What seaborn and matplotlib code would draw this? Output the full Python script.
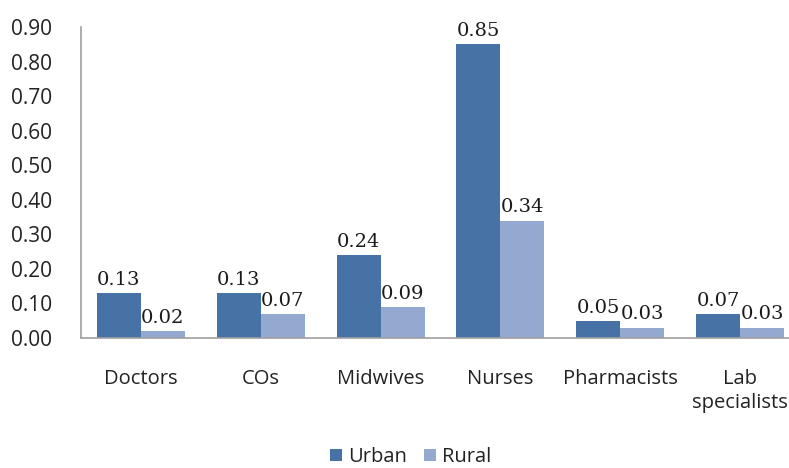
import matplotlib
matplotlib.use("Agg")
import matplotlib.pyplot as plt
import seaborn as sns
import pandas as pd

categories = ["Doctors", "COs", "Midwives", "Nurses", "Pharmacists", "Lab\nspecialists"]
urban = [0.13, 0.13, 0.24, 0.85, 0.05, 0.07]
rural = [0.02, 0.07, 0.09, 0.34, 0.03, 0.03]
series = ["Urban", "Rural"]
yticks = [0.0, 0.1, 0.2, 0.3, 0.4, 0.5, 0.6, 0.7, 0.8, 0.9]

df = pd.DataFrame({
    "cat": categories * 2,
    "val": urban + rural,
    "series": [series[0]] * len(categories) + [series[1]] * len(categories),
})

sns.set_style("white")
plt.rcParams["font.family"] = ["Open Sans", "DejaVu Sans"]

fig = plt.figure(figsize=(7.89, 4.68), dpi=100)
ax = fig.add_axes([81 / 789, 1 - 338 / 468, 719 / 789, (338 - 27) / 468])

palette = {"Urban": "#4672a6", "Rural": "#93a9cf"}
sns.barplot(data=df, x="cat", y="val", hue="series", palette=palette,
            width=0.735, gap=0, saturation=1, ax=ax, legend=True,
            linewidth=0, edgecolor="none")

for cont in ax.containers:
    ax.bar_label(cont, fmt="%.2f", padding=3, fontsize=14,
                 family=["DejaVu Serif"], color="#1a1a1a")

ax.set_ylim(0, 0.9)
ax.set_yticks(yticks)
ax.set_yticklabels([f"{v:.2f}" for v in yticks], fontsize=15, color="#222222")
ax.tick_params(axis="x", labelsize=14.5, colors="#222222", length=0, pad=22)
ax.tick_params(axis="y", length=0, pad=21)
for t in ax.get_xticklabels():
    t.set_linespacing(1.3)
ax.set_xlabel("")
ax.set_ylabel("")
for s in ["top", "right"]:
    ax.spines[s].set_visible(False)
for s in ["left", "bottom"]:
    ax.spines[s].set_color("#a0a0a0")
    ax.spines[s].set_linewidth(1.2)
ax.set_xlim(-0.5, 5.5)

leg = ax.legend(loc="center", bbox_to_anchor=(411 / 789, 1 - 457 / 468),
                bbox_transform=fig.transFigure, ncol=2, frameon=False,
                fontsize=14.5, handlelength=0.6, handleheight=0.6,
                handletextpad=0.3, columnspacing=0.85)
for t in leg.get_texts():
    t.set_color("#222222")

fig.savefig("out.png", dpi=100)
